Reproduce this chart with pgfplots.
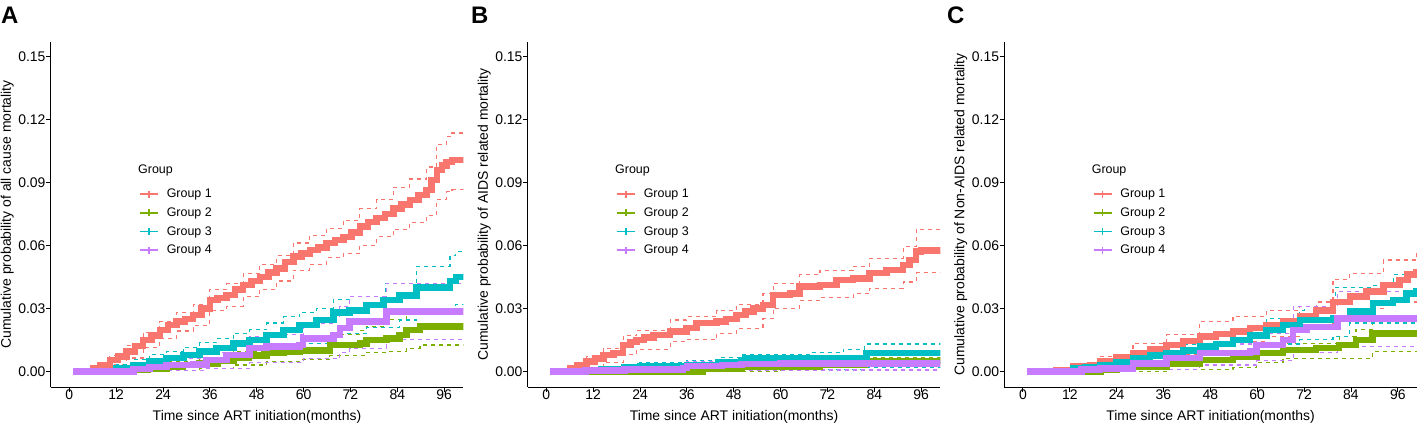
\documentclass[border=0pt]{standalone}
\usepackage{pgfplots}
\pgfplotsset{compat=1.18}
\usepackage{fontspec}
\setmainfont{Liberation Sans}
\definecolor{c1}{HTML}{F8766D}
\definecolor{c2}{HTML}{7CAE00}
\definecolor{c3}{HTML}{00BFC4}
\definecolor{c4}{HTML}{C77CFF}
\pgfplotsset{
  km/.style={const plot, line width=6.5bp, line join=miter, line cap=butt, forget plot},
  ci/.style={const plot, line width=1.1bp, dash pattern=on 4bp off 4bp, forget plot},
  panel/.style={
    scale only axis, width=412.6bp, height=345.3bp,
    xmin=-4.76, xmax=100.9, ymin=-0.0075, ymax=0.157,
    axis lines*=left,
    axis line style={line width=0.8bp, black},
    xtick={0,12,24,36,48,60,72,84,96},
    ytick={0,0.03,0.06,0.09,0.12,0.15},
    minor tick num=0,
    tick align=outside, major tick length=4.5bp,
    tick style={line width=0.8bp, black},
    /pgf/number format/assume math mode=true,
    yticklabel style={/pgf/number format/fixed, /pgf/number format/fixed zerofill, /pgf/number format/precision=2},
    tick label style={font=\fontsize{14}{16}\selectfont, black},
    xticklabel style={inner sep=0pt, yshift=2bp},
    yticklabel style={inner sep=0pt, xshift=-0.5bp},
    label style={font=\fontsize{14}{16}\selectfont},
    xlabel={Time since ART initiation(months)},
    xlabel style={at={(axis description cs:0.5,-0.0860)}, anchor=center},
    ylabel style={at={(axis description cs:-0.1055,0.5)}, anchor=center},
    legend image code/.code={
      \draw[line width=1.6bp, #1] (0bp,0bp) -- (18bp,0bp);
      \draw[line width=1.1bp, #1] (9bp,-3.5bp) -- (9bp,3.5bp);
    },
    legend style={at={(axis description cs:0.214,0.574)}, anchor=north west,
      draw=none, fill=none, inner sep=0pt, row sep=8.5bp, column sep=0bp,
      font=\fontsize{12.5}{13}\selectfont,
      nodes={inner sep=0pt}},
    legend cell align=left,
  }
}
\newcommand{\legendentries}{%
  \addlegendimage{c1}\addlegendentry{\hspace{8bp}Group 1}
  \addlegendimage{c2}\addlegendentry{\hspace{8bp}Group 2}
  \addlegendimage{c3}\addlegendentry{\hspace{8bp}Group 3}
  \addlegendimage{c4}\addlegendentry{\hspace{8bp}Group 4}
  \node[anchor=west, inner sep=0pt, font=\fontsize{12.5}{13}\selectfont] at (axis description cs:0.2116,0.6264) {Group};
}
\begin{document}
\begin{tikzpicture}
\useasboundingbox (0,0) rectangle (1417bp,424bp);
\node[anchor=west, inner sep=0pt, font=\fontsize{24}{24}\selectfont\bfseries] at (1bp,408.5bp) {A};
\node[anchor=west, inner sep=0pt, font=\fontsize{24}{24}\selectfont\bfseries] at (471bp,408.5bp) {B};
\node[anchor=west, inner sep=0pt, font=\fontsize{24}{24}\selectfont\bfseries] at (947bp,408.5bp) {C};

% ---------------- Panel A ----------------
\begin{axis}[panel, at={(50.7bp,37bp)}, anchor=south west,
  ylabel={Cumulative probability of all cause mortality}]
\legendentries
% CIs
\addplot[ci, c1] coordinates {(1,0)(5,0)(6.1,0.0024)(10.4,0.0074)(14.7,0.0123)(18.9,0.0185)(23.2,0.0237)(27.5,0.028)(31.7,0.0316)(36,0.039)(40.3,0.0416)(44.5,0.0465)(48.8,0.051)(53.1,0.055)(57.4,0.0611)(61.6,0.0648)(65.9,0.068)(70.2,0.072)(74.4,0.0774)(78.7,0.082)(83,0.0876)(87.2,0.0916)(91.5,0.0973)(94.1,0.108)(96.6,0.1118)(98,0.1135)(102,0.1146)};
\addplot[ci, c1] coordinates {(1,0)(5,0)(6.1,0.0004)(10.4,0.0034)(14.7,0.0063)(18.9,0.0113)(23.2,0.0157)(27.5,0.0192)(31.7,0.022)(36,0.029)(40.3,0.031)(44.5,0.0355)(48.8,0.039)(53.1,0.043)(57.4,0.048)(61.6,0.051)(65.9,0.054)(70.2,0.056)(74.4,0.060)(78.7,0.064)(83,0.0676)(87.2,0.071)(91.5,0.0743)(94.1,0.082)(96.6,0.0855)(98,0.0865)(102,0.0866)};
\addplot[ci, c2] coordinates {(1,0)(14,0)(16,0.002)(24.9,0.0045)(33.4,0.0065)(42,0.0095)(50.5,0.012)(59,0.014)(66.7,0.0175)(74.4,0.0195)(76.1,0.0215)(81.2,0.0245)(86.3,0.027)(89.8,0.030)(102,0.030)};
\addplot[ci, c2] coordinates {(1,0)(20,0)(24.9,0.0005)(33.4,0.0015)(42,0.003)(50.5,0.0045)(59,0.0055)(66.7,0.0075)(76.1,0.009)(81.2,0.0095)(86.3,0.011)(89.8,0.0125)(102,0.0125)};
\addplot[ci, c3] coordinates {(1,0)(9,0)(12,0.003)(16.4,0.0055)(20.6,0.008)(24.9,0.0095)(29.2,0.0115)(33.4,0.0135)(37.7,0.0155)(42,0.018)(46.2,0.0197)(50.5,0.023)(54.8,0.026)(59,0.028)(63.3,0.030)(67.6,0.034)(71.8,0.0356)(80.4,0.0356)(81,0.042)(88.9,0.050)(95.7,0.050)(97.5,0.055)(99,0.057)(102,0.057)};
\addplot[ci, c3] coordinates {(1,0)(12,0)(16.4,0.0008)(24.9,0.003)(33.4,0.005)(42,0.0075)(50.5,0.010)(59,0.0133)(67.6,0.018)(76.1,0.021)(84.6,0.0244)(88.9,0.029)(95.7,0.029)(99,0.032)(102,0.032)};
\addplot[ci, c4] coordinates {(1,0)(14,0)(16.4,0.0025)(24.9,0.006)(35.2,0.009)(46.2,0.0165)(50.5,0.0175)(59.9,0.023)(67.6,0.026)(69.3,0.031)(71.8,0.0356)(81.2,0.042)(102,0.042)};
\addplot[ci, c4] coordinates {(1,0)(20,0)(24.9,0.0005)(35.2,0.0015)(46.2,0.004)(59.9,0.006)(69.3,0.009)(71.8,0.011)(81.2,0.015)(102,0.015)};
% main curves
\addplot[km, c1] coordinates {(1,0)(5,0)(6.1,0.0014)(8,0.003)(10.4,0.0054)(12.5,0.007)(14.7,0.0093)(16.8,0.012)(18.9,0.0149)(21,0.017)(23.2,0.0197)(25.3,0.022)(27.5,0.0236)(29.6,0.025)(31.7,0.0268)(33.8,0.030)(36,0.034)(38,0.035)(40.3,0.0363)(42.4,0.039)(44.5,0.041)(46.6,0.043)(48.8,0.045)(51,0.047)(53.1,0.049)(55.2,0.052)(57.4,0.0546)(59.5,0.056)(61.6,0.0578)(63.7,0.059)(65.9,0.061)(68,0.0625)(70.2,0.064)(72.3,0.066)(74.4,0.0689)(76.5,0.071)(78.7,0.0729)(80.8,0.075)(83,0.0776)(85.1,0.0795)(87.2,0.0816)(89.4,0.084)(91.5,0.0863)(92.8,0.091)(94.1,0.0959)(95.4,0.098)(96.6,0.0998)(98,0.1006)(102,0.1006)};
\addplot[km, c2] coordinates {(1,0)(14,0)(16,0.0008)(20,0.0012)(24.9,0.002)(29,0.003)(33.4,0.0038)(38,0.005)(42,0.0062)(46,0.0075)(50.5,0.0086)(55,0.0095)(59,0.010)(66.7,0.0125)(74.4,0.0133)(76.1,0.015)(81.2,0.0157)(84.6,0.0173)(86.3,0.0197)(89.8,0.0213)(102,0.0213)};
\addplot[km, c3] coordinates {(1,0)(9,0)(12,0.0014)(16.4,0.003)(20.6,0.0046)(24.9,0.0062)(29.2,0.0078)(33.4,0.0094)(37.7,0.011)(42,0.0133)(46.2,0.0149)(50.5,0.0173)(54.8,0.0197)(59,0.022)(63.3,0.0244)(67.6,0.028)(71.8,0.029)(76.1,0.0316)(80.4,0.034)(84.6,0.036)(88.9,0.040)(95.7,0.040)(97.5,0.043)(99,0.045)(102,0.045)};
\addplot[km, c4] coordinates {(1,0)(14,0)(16.4,0.001)(20.6,0.002)(24.9,0.003)(31.7,0.0033)(35.2,0.0054)(40.3,0.0078)(46.2,0.011)(50.5,0.0117)(59,0.0125)(59.9,0.0157)(67.6,0.0173)(69.3,0.0205)(71.8,0.0237)(80.4,0.0237)(81.2,0.0284)(102,0.0284)};
\end{axis}

% ---------------- Panel B ----------------
\begin{axis}[panel, at={(527.7bp,37bp)}, anchor=south west,
  ylabel={Cumulative probability of AIDS related mortality}]
\legendentries
\addplot[ci, c1] coordinates {(1,0)(5,0)(6.1,0.0025)(10.3,0.007)(14.6,0.011)(19.7,0.017)(23.1,0.0195)(31.7,0.0244)(35.9,0.026)(43.6,0.029)(48.7,0.032)(55.5,0.037)(58.1,0.042)(64.9,0.046)(70.1,0.048)(78.6,0.050)(82.8,0.0538)(91.4,0.0594)(94.7,0.0676)(102,0.0676)};
\addplot[ci, c1] coordinates {(1,0)(6,0)(10.3,0.002)(14.6,0.004)(19.7,0.008)(23.1,0.0105)(31.7,0.014)(35.9,0.015)(43.6,0.018)(48.7,0.0205)(55.5,0.025)(58.1,0.030)(64.9,0.0335)(70.1,0.035)(78.6,0.037)(82.8,0.0395)(91.4,0.0425)(94.7,0.047)(102,0.047)};
\addplot[ci, c2] coordinates {(1,0)(35,0)(40,0.003)(50,0.0045)(81.6,0.0055)(82,0.0065)(102,0.0065)};
\addplot[ci, c2] coordinates {(1,0)(50,0)(60,0.0008)(102,0.0008)};
\addplot[ci, c3] coordinates {(1,0)(8,0)(12,0.002)(24,0.004)(36,0.005)(44,0.0065)(50,0.0078)(67.5,0.0089)(76,0.0105)(81.6,0.013)(102,0.013)};
\addplot[ci, c3] coordinates {(1,0)(20,0)(36,0.0005)(50,0.001)(81.6,0.002)(102,0.003)};
\addplot[ci, c4] coordinates {(1,0)(10,0)(20,0.002)(36,0.0045)(50,0.006)(102,0.0065)};
\addplot[ci, c4] coordinates {(1,0)(36,0)(50,0.0006)(102,0.0006)};
\addplot[km, c1] coordinates {(1,0)(5,0)(6.1,0.0014)(8,0.003)(10.3,0.0046)(12.5,0.006)(14.6,0.0078)(17.2,0.0086)(19.7,0.0125)(21.5,0.014)(23.1,0.0149)(25,0.016)(27.4,0.0173)(31.7,0.0189)(35.9,0.0205)(38.5,0.0229)(43.6,0.0237)(46,0.025)(48.7,0.0268)(51,0.0285)(53,0.030)(55.5,0.0316)(58.1,0.0363)(62.4,0.0371)(64.9,0.0403)(70.1,0.0411)(74.3,0.0435)(78.6,0.0443)(82.8,0.0467)(87.1,0.0483)(91.4,0.0506)(93,0.053)(94.7,0.057)(96,0.0575)(102,0.0575)};
\addplot[km, c2] coordinates {(1,0)(35,0)(40,0.001)(50,0.002)(70,0.003)(81.6,0.005)(102,0.005)};
\addplot[km, c3] coordinates {(1,0)(8,0)(10,0.0006)(14,0.001)(20,0.0018)(24,0.0025)(36,0.003)(44,0.0045)(50,0.0054)(51,0.0062)(81.6,0.0062)(82,0.0086)(102,0.0086)};
\addplot[km, c4] coordinates {(1,0)(2,0)(10,0.0003)(20,0.0008)(35,0.0015)(36,0.0025)(45,0.003)(50,0.0035)(60,0.0037)(102,0.0038)};
\end{axis}

% ---------------- Panel C ----------------
\begin{axis}[panel, at={(1004.3bp,37bp)}, anchor=south west,
  ylabel={Cumulative probability of Non-AIDS related mortality}]
\legendentries
\addplot[ci, c1] coordinates {(1,0)(3,0)(8.6,0.0015)(12.9,0.0035)(19.7,0.007)(28.2,0.0133)(36.8,0.0175)(45.3,0.0236)(53.8,0.026)(62.4,0.029)(70.9,0.031)(75.1,0.033)(79.4,0.0435)(83.7,0.0467)(92.3,0.053)(100.8,0.057)(102,0.057)};
\addplot[ci, c1] coordinates {(1,0)(8.6,0)(12.9,0.001)(19.7,0.0022)(28.2,0.0046)(36.8,0.008)(45.3,0.0117)(53.8,0.014)(62.4,0.0165)(70.9,0.021)(79.4,0.026)(88,0.030)(92.3,0.033)(100.8,0.036)(102,0.036)};
\addplot[ci, c2] coordinates {(1,0)(18,0)(24,0.002)(36.8,0.006)(45.3,0.008)(53.8,0.010)(59.8,0.012)(66.6,0.0133)(81,0.0165)(85.3,0.020)(89.5,0.023)(102,0.023)};
\addplot[ci, c2] coordinates {(1,0)(24,0)(36.8,0.001)(53.8,0.002)(59.8,0.004)(66.6,0.0062)(89.5,0.0094)(102,0.0094)};
\addplot[ci, c3] coordinates {(1,0)(10,0)(12.9,0.003)(19.7,0.006)(28.2,0.010)(36.8,0.013)(45.3,0.0165)(53.8,0.020)(62.4,0.025)(70.9,0.029)(72,0.031)(79.4,0.031)(80,0.040)(89,0.041)(94.8,0.046)(100.8,0.048)(102,0.048)};
\addplot[ci, c3] coordinates {(1,0)(16,0)(19.7,0.0006)(28.2,0.002)(36.8,0.0035)(45.3,0.006)(53.8,0.0101)(62.4,0.013)(70.9,0.015)(79.4,0.0165)(83.7,0.023)(100.8,0.0244)(102,0.0244)};
\addplot[ci, c4] coordinates {(1,0)(14,0)(19.7,0.003)(28.2,0.007)(36.8,0.010)(45.3,0.013)(59.8,0.018)(69.2,0.031)(80.6,0.038)(102,0.038)};
\addplot[ci, c4] coordinates {(1,0)(20,0)(28.2,0.001)(45.3,0.003)(59.8,0.005)(69.2,0.009)(80.6,0.0117)(102,0.0117)};
\addplot[km, c1] coordinates {(1,0)(3,0)(8.6,0.0006)(12.9,0.0022)(17.2,0.003)(19.7,0.0046)(24,0.0065)(28.2,0.0086)(32.5,0.0105)(36.8,0.0125)(41,0.0145)(45.3,0.0165)(49.5,0.0177)(53.8,0.0189)(58.1,0.0205)(62.4,0.022)(66.6,0.024)(70.9,0.026)(75.1,0.029)(79.4,0.033)(83.7,0.0355)(88,0.038)(92.3,0.041)(96.5,0.0435)(98.5,0.046)(100.8,0.0474)(102,0.0474)};
\addplot[km, c2] coordinates {(1,0)(18,0)(20,0.0005)(24,0.001)(28.2,0.0022)(36.8,0.0038)(45.3,0.0054)(53.8,0.007)(59.8,0.0086)(66.6,0.0101)(75.1,0.011)(81,0.0125)(85.3,0.0149)(89.5,0.018)(102,0.018)};
\addplot[km, c3] coordinates {(1,0)(10,0)(12.9,0.0014)(16,0.002)(19.7,0.003)(24,0.0045)(28.2,0.0062)(32.5,0.0075)(36.8,0.0086)(41,0.010)(45.3,0.0117)(49.5,0.013)(53.8,0.0149)(58.1,0.017)(62.4,0.0197)(66.6,0.022)(70.9,0.0244)(79.4,0.0252)(83.7,0.0284)(89.7,0.0324)(94.8,0.034)(98.2,0.037)(100.8,0.038)(102,0.038)};
\addplot[km, c4] coordinates {(1,0)(14,0)(15,0.0008)(19.7,0.0014)(28.2,0.0038)(36.8,0.0062)(45.3,0.0086)(58.1,0.0094)(59.8,0.0125)(66.6,0.0149)(69.2,0.0197)(72.6,0.0212)(80.6,0.0252)(102,0.0252)};
\end{axis}
\end{tikzpicture}
\end{document}
